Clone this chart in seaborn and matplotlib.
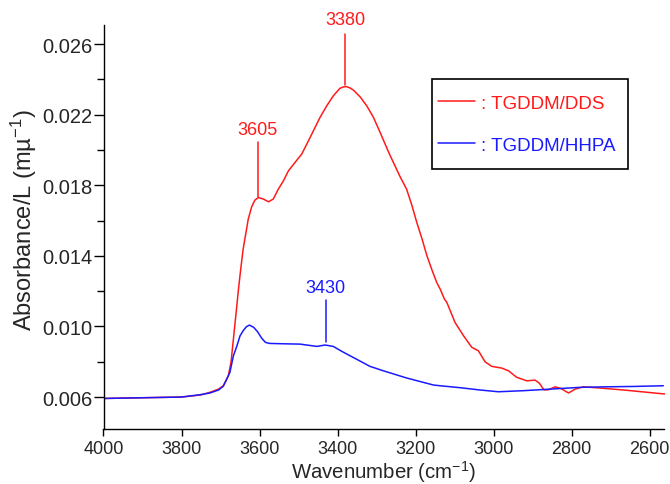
import numpy as np
import pandas as pd
import matplotlib
matplotlib.use("Agg")
import matplotlib.pyplot as plt
from matplotlib.patches import Rectangle
import seaborn as sns
from matplotlib.ticker import MultipleLocator, FormatStrFormatter

# ---- data ----
dds_wn = [4000, 3900, 3800, 3750, 3727, 3705, 3693, 3680, 3673, 3667, 3660, 3654,
          3648, 3642, 3635, 3629, 3620, 3612, 3603, 3590, 3577, 3565, 3552, 3539,
          3526, 3509, 3492, 3479, 3462, 3445, 3428, 3411, 3394, 3385, 3378, 3368,
          3359, 3342, 3325, 3308, 3291, 3267, 3257, 3240, 3223, 3210, 3197, 3184,
          3171, 3158, 3146, 3137, 3126, 3120, 3099, 3077, 3056, 3039, 3022, 3005,
          2979, 2962, 2941, 2915, 2894, 2883, 2871, 2860, 2842, 2828, 2808, 2791,
          2770, 2727, 2667, 2607, 2560]
dds_abs = [0.00592, 0.00596, 0.00600, 0.00612, 0.00627, 0.00645, 0.00664, 0.00720,
           0.00800, 0.00929, 0.01080, 0.01212, 0.01330, 0.01439, 0.01530, 0.01608,
           0.01680, 0.01716, 0.01731, 0.01722, 0.01707, 0.01722, 0.01778, 0.01825,
           0.01882, 0.01930, 0.01977, 0.02033, 0.02109, 0.02185, 0.02250, 0.02307,
           0.02350, 0.02358, 0.02360, 0.02352, 0.02339, 0.02301, 0.02250, 0.02185,
           0.02100, 0.01977, 0.01930, 0.01850, 0.01778, 0.01690, 0.01590, 0.01500,
           0.01401, 0.01320, 0.01250, 0.01212, 0.01155, 0.01137, 0.01023, 0.00947,
           0.00882, 0.00862, 0.00800, 0.00774, 0.00764, 0.00749, 0.00712, 0.00692,
           0.00696, 0.00679, 0.00641, 0.00641, 0.00658, 0.00649, 0.00623, 0.00645,
           0.00658, 0.00651, 0.00640, 0.00627, 0.00617]

hhpa_wn = [4000, 3900, 3800, 3753, 3727, 3705, 3693, 3684, 3676, 3667, 3658, 3650,
           3642, 3634, 3626, 3615, 3605, 3595, 3585, 3575, 3540, 3496, 3453, 3432,
           3411, 3390, 3368, 3317, 3283, 3223, 3154, 3137, 3086, 3035, 2988, 2924,
           2855, 2778, 2710, 2642, 2565]
hhpa_abs = [0.00592, 0.00596, 0.00600, 0.00613, 0.00623, 0.00640, 0.00661, 0.00702,
            0.00740, 0.00834, 0.00890, 0.00947, 0.00976, 0.00998, 0.01008, 0.00995,
            0.00970, 0.00935, 0.00910, 0.00904, 0.00902, 0.00900, 0.00887, 0.00895,
            0.00887, 0.00860, 0.00834, 0.00774, 0.00749, 0.00708, 0.00668, 0.00664,
            0.00653, 0.00640, 0.00630, 0.00636, 0.00645, 0.00655, 0.00658, 0.00660,
            0.00664]

series_names = [": TGDDM/DDS", ": TGDDM/HHPA"]
series_colors = ["#ff1a1a", "#1a1aff"]

peak_labels = ["3605", "3380", "3430"]
peak_wn = [3605, 3380, 3430]
peak_series = [0, 0, 1]
peak_line_top = [0.02045, 0.02657, 0.01150]
peak_line_bot = [0.01735, 0.02366, 0.00912]
peak_text_y = [0.02118, 0.02740, 0.01222]

x_ticks = [4000, 3800, 3600, 3400, 3200, 3000, 2800, 2600]

df = pd.concat([
    pd.DataFrame({"wn": dds_wn, "abs": dds_abs, "s": series_names[0]}),
    pd.DataFrame({"wn": hhpa_wn, "abs": hhpa_abs, "s": series_names[1]}),
])

sns.set_style("ticks")
plt.rcParams["font.family"] = ["Liberation Sans", "DejaVu Sans"]
plt.rcParams["mathtext.fontset"] = "custom"
plt.rcParams["mathtext.rm"] = "Liberation Sans"
plt.rcParams["mathtext.it"] = "Liberation Sans:italic"

fig = plt.figure(figsize=(6.7, 4.85), dpi=100)
ax = fig.add_axes([103.5 / 670, 1 - 429.8 / 485, 561 / 670, 404 / 485])

sns.lineplot(data=df, x="wn", y="abs", hue="s", palette=series_colors,
             estimator=None, sort=False, lw=1.1, ax=ax)

ax.set_xlim(4000, 2562)
ax.set_ylim(0.0042, 0.0271)
ax.set_xticks(x_ticks)
ax.set_yticks(np.arange(0.006, 0.027, 0.004))
ax.yaxis.set_minor_locator(MultipleLocator(0.002))
ax.yaxis.set_major_formatter(FormatStrFormatter("%.3f"))
ax.tick_params(axis="x", labelsize=13, length=5, width=1, color="black",
               direction="out", pad=3)
ax.tick_params(axis="y", which="major", labelsize=14.5, length=7, width=1,
               color="black", direction="out", pad=1)
ax.tick_params(axis="y", which="minor", length=5, width=1, color="black")
for sp in ["top", "right"]:
    ax.spines[sp].set_visible(False)
for sp in ["left", "bottom"]:
    ax.spines[sp].set_color("black")
    ax.spines[sp].set_linewidth(1.0)

ax.set_xlabel("Wavenumber (cm$^{-1}$)", fontsize=14.7, labelpad=1)
ax.set_ylabel("Absorbance/L (mµ$^{-1}$)", fontsize=17)
ax.yaxis.set_label_coords(-0.115, 0.52)

for lab, wn, si, yt, yb, ty in zip(peak_labels, peak_wn, peak_series,
                                  peak_line_top, peak_line_bot, peak_text_y):
    c = series_colors[si]
    ax.plot([wn, wn], [yb, yt], color=c, lw=1.1, clip_on=False)
    ax.text(wn, ty, lab, color=c, fontsize=13, ha="center", va="center",
            clip_on=False)

# legend frame drawn as a rectangle, entries via the seaborn legend
box_x0, box_x1 = 0.5856, 0.935
box_y0, box_y1 = 0.6426, 0.8653
ax.add_patch(Rectangle((box_x0, box_y0), box_x1 - box_x0, box_y1 - box_y0,
                       transform=ax.transAxes, fill=True, facecolor="white",
                       edgecolor="black", lw=1.2, zorder=4, clip_on=False))
leg = ax.legend(loc="center left", bbox_to_anchor=(0.5963, 0.754),
                borderaxespad=0, borderpad=0, frameon=False, fontsize=13.5,
                handlelength=1.95, handletextpad=0.35, labelspacing=1.33,
                labelcolor="linecolor", title=None)
leg.set_zorder(5)
for h in leg.get_lines():
    h.set_linewidth(1.1)

fig.savefig("out.png", dpi=100)
